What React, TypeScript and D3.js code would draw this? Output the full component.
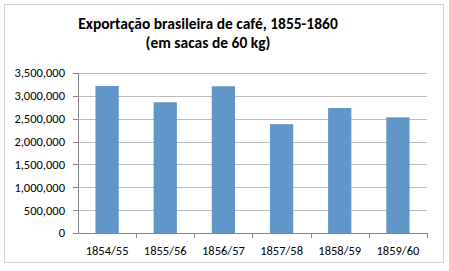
import React from "react";
import * as d3 from "d3";

// Exportação brasileira de café, sacas de 60 kg
const categories = ["1854/55", "1855/56", "1856/57", "1857/58", "1858/59", "1859/60"];
const values = [3215000, 2860000, 3210000, 2380000, 2735000, 2530000];
const yTicks = [0, 500000, 1000000, 1500000, 2000000, 2500000, 3000000, 3500000];
const titleLines = ["Exportação brasileira de café, 1855-1860", "(em sacas de 60 kg)"];

const W = 449;
const H = 271;
const margin = { left: 78, right: 22, top: 73, bottom: 38 };

const App: React.FC = () => {
  const x = d3
    .scaleBand<string>()
    .domain(categories)
    .range([margin.left, W - margin.right])
    .paddingInner(0.6)
    .paddingOuter(0.3);
  const band = d3.scaleBand<string>().domain(categories).range([margin.left, W - margin.right]);
  const y = d3.scaleLinear().domain([0, 3500000]).range([H - margin.bottom, margin.top]);
  const fmt = d3.format(",");
  const font = "Carlito, Calibri, 'Open Sans', sans-serif";

  return (
    <svg
      width={W}
      height={H}
      style={{ position: "absolute", left: 0, top: 0, background: "#fff" }}
      fontFamily={font}
    >
      <rect x={4.5} y={4.5} width={439} height={258} fill="#fff" stroke="#d4d4d4" />
      {titleLines.map((t, i) => (
        <text key={t} x={208} y={29 + i * 19} textAnchor="middle" fontSize={15.5} fontWeight="bold" fill="#000">
          {t}
        </text>
      ))}
      {/* grid lines */}
      {yTicks.slice(1).map((t) => (
        <line key={t} x1={margin.left} x2={W - margin.right} y1={Math.round(y(t)) + 0.5} y2={Math.round(y(t)) + 0.5} stroke="#bdbdbd" />
      ))}
      {/* bars */}
      {values.map((v, i) => (
        <rect key={categories[i]} x={x(categories[i])} y={y(v)} width={x.bandwidth()} height={y(0) - y(v)} fill="#6296c9" />
      ))}
      {/* y axis */}
      <line x1={margin.left + 0.5} x2={margin.left + 0.5} y1={y(3500000)} y2={y(0)} stroke="#868686" />
      {yTicks.map((t) => (
        <g key={t}>
          <line x1={margin.left - 5} x2={margin.left} y1={Math.round(y(t)) + 0.5} y2={Math.round(y(t)) + 0.5} stroke="#868686" />
          <text x={65} y={y(t)} dy="0.35em" textAnchor="end" fontSize={12.5} fill="#000">
            {fmt(t)}
          </text>
        </g>
      ))}
      {/* x axis */}
      <line x1={margin.left} x2={W - margin.right} y1={Math.round(y(0)) + 0.5} y2={Math.round(y(0)) + 0.5} stroke="#868686" />
      {categories.map((c) => (
        <g key={c}>
          <line
            x1={Math.round(band(c)! + band.bandwidth()) + 0.5}
            x2={Math.round(band(c)! + band.bandwidth()) + 0.5}
            y1={y(0)}
            y2={y(0) + 5}
            stroke="#868686"
          />
          <text x={band(c)! + band.bandwidth() / 2} y={255} textAnchor="middle" fontSize={12.5} fill="#000">
            {c}
          </text>
        </g>
      ))}
    </svg>
  );
};

export default App;
